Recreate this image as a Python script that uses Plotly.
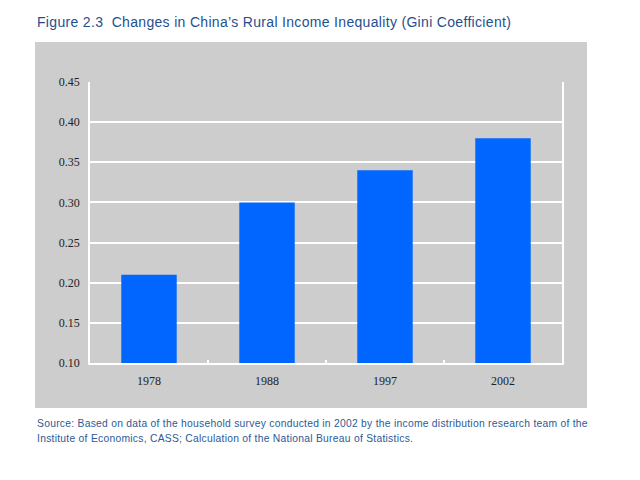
import plotly.graph_objects as go

years = ["1978", "1988", "1997", "2002"]
gini = [0.21, 0.30, 0.34, 0.38]
y_ticks = [0.10, 0.15, 0.20, 0.25, 0.30, 0.35, 0.40, 0.45]

title_text = "Figure 2.3  Changes in China\u2019s Rural Income Inequality (Gini Coefficient)"
source_lines = [
    "Source: Based on data of the household survey conducted in 2002 by the income distribution research team of the",
    "Institute of Economics, CASS; Calculation of the National Bureau of Statistics.",
]

W, H = 640, 480
OFF = 8  # page body margin in the browser
L, T = 90 - OFF, 82 - OFF
R = W - (562 - OFF)
B = H - (363 - OFF)
pw, ph = W - L - R, H - T - B

def px_x(x):
    return (x - OFF - L) / pw

def px_y(y):
    return (H - B - (y - OFF)) / ph

fig = go.Figure()
fig.add_trace(go.Bar(
    x=years, y=gini, marker=dict(color="#0066ff", line=dict(width=0)),
    width=0.47, hoverinfo="x+y",
))

fig.add_shape(type="rect", xref="paper", yref="paper",
              x0=px_x(35), x1=px_x(587), y0=px_y(408), y1=px_y(42),
              fillcolor="#cdcdcd", line=dict(width=0), layer="below")

fig.add_annotation(text="<span style='letter-spacing:0.32px'>" + title_text + "</span>",
                   xref="paper", yref="paper",
                   x=px_x(35), y=px_y(22), xanchor="left", yanchor="middle",
                   showarrow=False,
                   font=dict(family="Liberation Sans, Arial", size=14, color="#1f4f8f"))

for i, line in enumerate(source_lines):
    fig.add_annotation(text="<span style='letter-spacing:0.27px'>" + line + "</span>",
                       xref="paper", yref="paper",
                       x=px_x(35), y=px_y(423 + 15 * i), xanchor="left", yanchor="middle",
                       showarrow=False,
                       font=dict(family="Liberation Sans, Arial", size=10.3, color="#2a5a98"))

fig.update_layout(
    width=W, height=H,
    margin=dict(l=L, r=R, t=T, b=B),
    paper_bgcolor="white", plot_bgcolor="#cdcdcd",
    showlegend=False,
    xaxis=dict(
        type="category", showgrid=False, showline=True, linecolor="white", linewidth=1.5,
        tickson="boundaries", ticks="inside", ticklen=3, tickcolor="white", tickwidth=1.5,
        ticklabelstandoff=6,
        tickfont=dict(family="Liberation Serif, Times New Roman", size=12, color="#222222"),
        fixedrange=True,
    ),
    yaxis=dict(
        range=[0.10, 0.45], tickvals=y_ticks, tickformat=".2f",
        showgrid=True, gridcolor="white", gridwidth=1.5,
        showline=True, linecolor="white", linewidth=1.5, mirror=True,
        zeroline=False, ticks="outside", ticklen=6, tickcolor="rgba(0,0,0,0)",
        tickfont=dict(family="Liberation Serif, Times New Roman", size=12, color="#222222"),
        fixedrange=True,
    ),
)

fig.write_html("out.html")
